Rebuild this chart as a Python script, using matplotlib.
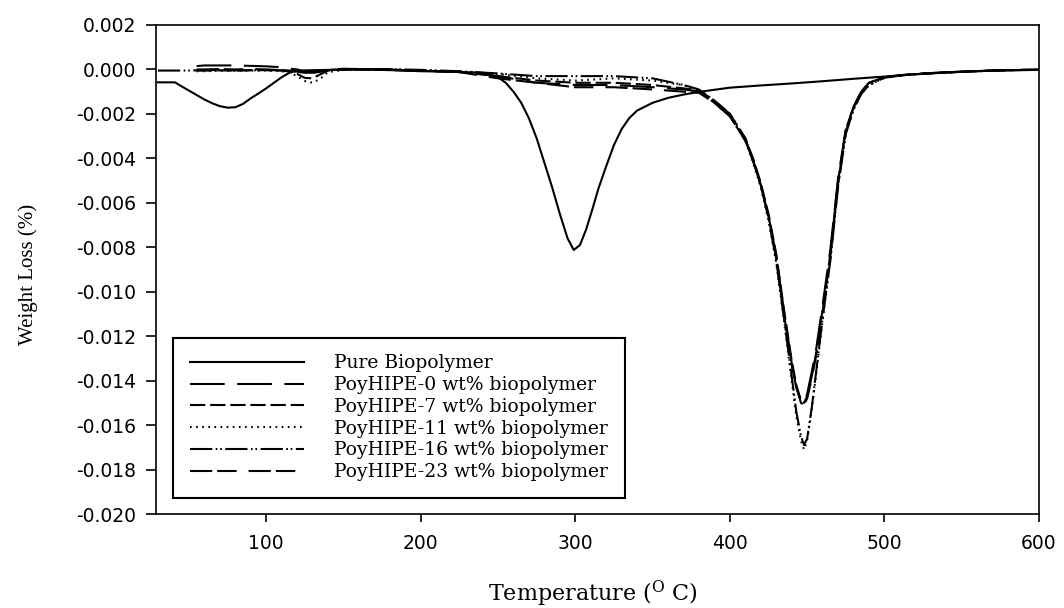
import numpy as np
import matplotlib
matplotlib.use("Agg")
import matplotlib.pyplot as plt
from matplotlib.ticker import FixedLocator, FixedFormatter

plt.rcParams['axes.unicode_minus'] = False
plt.rcParams['lines.scale_dashes'] = False
plt.rcParams['mathtext.fontset'] = 'dejavuserif'

nan = np.nan

# ---------------- data ----------------
T_pure = [30, 41, 45, 50, 55, 60, 65, 70, 75, 80,
          85, 90, 95, 100, 105, 110, 115, 120, 140, 160,
          180, 200, 220, 240, 250, 255, 260, 265, 270, 275,
          280, 285, 290, 295, 299, 303, 307, 311, 315, 320,
          325, 330, 335, 340, 350, 360, 370, 380, 400, 420,
          440, 460, 480, 500, 520, 540, 560, 580, 600]
y_pure = [-0.00058, -0.00058, -0.00075, -0.00095, -0.00115, -0.00135, -0.00152, -0.00165, -0.00172, -0.00170,
          -0.00155, -0.00130, -0.00108, -0.00085, -0.00060, -0.00035, -0.00015, -0.00005, -0.00002, 0.0,
          -0.00003, -0.00008, -0.00010, -0.00015, -0.00035, -0.00060, -0.00100, -0.00150, -0.00220, -0.00310,
          -0.00420, -0.00530, -0.00650, -0.00760, -0.00812, -0.00790, -0.00720, -0.00630, -0.00535, -0.00435,
          -0.00340, -0.00268, -0.00218, -0.00185, -0.00150, -0.00128, -0.00113, -0.00101, -0.00082, -0.00072,
          -0.00063, -0.00053, -0.00042, -0.00032, -0.00022, -0.00014, -0.00008, -0.00004, -0.00002]

T_hipe = [30, 40, 50, 55, 60, 70, 80, 90, 100, 110,
          115, 120, 125, 130, 135, 140, 150, 175, 200, 225,
          250, 275, 300, 325, 350, 370,
          380, 390, 400, 410, 415, 420, 425, 430, 435, 440,
          443, 446, 448, 450, 453, 456, 460, 465, 470, 475,
          480, 485, 490, 500, 510, 525, 550, 575, 600]

y_hipe0 = [nan, nan, nan, 0.00015, 0.00018, 0.00018, 0.00018, 0.00016, 0.00014, 0.00010,
           0.00004, 0.0, -0.00010, -0.00010, -0.00005, 0.0, 0.00003, 0.0, -0.00005, -0.00010,
           -0.00030, -0.00060, -0.00070, -0.00070, -0.00080, -0.00090,
           -0.00098, -0.0015, -0.0021, -0.0032, -0.0041, -0.0052, -0.0066, -0.0085, -0.0110, -0.0133,
           -0.0143, -0.0149, -0.0150, -0.0146, -0.0136, -0.0125, -0.0106, -0.0081, -0.0049, -0.0027,
           -0.0017, -0.0010, -0.0006, -0.00036, -0.00027, -0.00018, -0.00010, -0.00004, -0.00001]

y_hipe7 = [nan, nan, nan, -0.00005, -0.00005, -0.00004, -0.00005, -0.00003, -0.00003, -0.00005,
           -0.00010, -0.00020, -0.00038, -0.00040, -0.00022, -0.00005, 0.0, -0.00002, -0.00006, -0.00012,
           -0.00030, -0.00050, -0.00060, -0.00060, -0.00070, -0.00085,
           -0.00095, -0.0014, -0.0020, -0.0031, -0.0040, -0.0051, -0.0065, -0.0083, -0.0108, -0.0131,
           -0.0142, -0.0149, -0.0150, -0.0147, -0.0138, -0.0127, -0.0108, -0.0083, -0.0050, -0.0027,
           -0.0017, -0.0010, -0.0006, -0.00035, -0.00026, -0.00018, -0.00010, -0.00004, -0.00001]

y_hipe11 = [nan, nan, nan, -0.00008, -0.00008, -0.00006, -0.00006, -0.00005, -0.00005, -0.00008,
            -0.00015, -0.00030, -0.00052, -0.00060, -0.00042, -0.00012, -0.00002, 0.0, -0.00004, -0.00010,
            -0.00020, -0.00040, -0.00050, -0.00040, -0.00050, -0.00070,
            -0.00095, -0.0015, -0.0021, -0.0032, -0.0042, -0.0053, -0.0068, -0.0087, -0.0113, -0.0140,
            -0.0156, -0.0167, -0.0171, -0.0167, -0.0153, -0.0136, -0.0113, -0.0085, -0.0052, -0.0029,
            -0.0018, -0.0011, -0.0007, -0.00038, -0.00028, -0.00019, -0.00010, -0.00004, -0.00001]

y_hipe16 = [-0.00005, -0.00005, -0.00005, -0.00004, -0.00003, -0.00003, -0.00004, -0.00004, -0.00003, -0.00004,
            -0.00006, -0.00010, -0.00015, -0.00015, -0.00010, -0.00004, 0.0, 0.00002, -0.00002, -0.00008,
            -0.00018, -0.00030, -0.00030, -0.00030, -0.00040, -0.00070,
            -0.0009, -0.0014, -0.0020, -0.0031, -0.0041, -0.0052, -0.0067, -0.0086, -0.0112, -0.0138,
            -0.0154, -0.0165, -0.0169, -0.0166, -0.0152, -0.0135, -0.0112, -0.0086, -0.0053, -0.0029,
            -0.0018, -0.0011, -0.0007, -0.00037, -0.00027, -0.00019, -0.00010, -0.00004, -0.00001]

y_hipe23 = [nan, nan, nan, 0.0, 0.0, 0.00002, 0.0, 0.00002, 0.0, -0.00003,
            -0.00005, -0.00010, -0.00015, -0.00015, -0.00010, -0.00003, 0.00002, 0.0, -0.00005, -0.00012,
            -0.00040, -0.00060, -0.00080, -0.00080, -0.00090, -0.00100,
            -0.00105, -0.0015, -0.0021, -0.0032, -0.0041, -0.0052, -0.0066, -0.0084, -0.0109, -0.0132,
            -0.0143, -0.0150, -0.0151, -0.0148, -0.0139, -0.0128, -0.0109, -0.0084, -0.0051, -0.0028,
            -0.0017, -0.0010, -0.0006, -0.00035, -0.00026, -0.00018, -0.00010, -0.00004, -0.00001]

labels = ["Pure Biopolymer",
          "PoyHIPE-0 wt% biopolymer",
          "PoyHIPE-7 wt% biopolymer",
          "PoyHIPE-11 wt% biopolymer",
          "PoyHIPE-16 wt% biopolymer",
          "PoyHIPE-23 wt% biopolymer"]

x_ticks = [100, 200, 300, 400, 500, 600]
x_ticklabels = ["100", "200", "300", "400", "500", "600"]
y_ticks = [0.002, 0.000, -0.002, -0.004, -0.006, -0.008, -0.010,
           -0.012, -0.014, -0.016, -0.018, -0.020]
y_ticklabels = ["0.002", "0.000", "-0.002", "-0.004", "-0.006", "-0.008", "-0.010",
                "-0.012", "-0.014", "-0.016", "-0.018", "-0.020"]

# ---------------- figure ----------------
fig = plt.figure(figsize=(10.64, 6.08), dpi=100)
ax = fig.add_axes([0.1466, 0.1546, 0.9765 - 0.1466, 0.9589 - 0.1546])

lw = 1.5
styles = [
    dict(linestyle='-'),
    dict(linestyle=(0, (25, 9))),
    dict(linestyle=(0, (11, 3.5))),
    dict(linestyle=(0, (1.2, 3.2))),
    dict(linestyle=(0, (16, 2.5, 1.2, 2, 1.2, 2.5))),
    dict(linestyle=(0, (16, 3.6, 14, 8.6))),
]
series = [(T_pure, y_pure), (T_hipe, y_hipe0), (T_hipe, y_hipe7),
          (T_hipe, y_hipe11), (T_hipe, y_hipe16), (T_hipe, y_hipe23)]

handles = []
for (xs, ys), st, lab in zip(series, styles, labels):
    h, = ax.plot(xs, ys, color='black', lw=lw, label=lab, **st)
    handles.append(h)

ax.set_xlim(28.7, 600)
ax.set_ylim(-0.020, 0.002)

ax.xaxis.set_major_locator(FixedLocator(x_ticks))
ax.xaxis.set_major_formatter(FixedFormatter(x_ticklabels))
ax.yaxis.set_major_locator(FixedLocator(y_ticks))
ax.yaxis.set_major_formatter(FixedFormatter(y_ticklabels))

for sp in ax.spines.values():
    sp.set_linewidth(1.2)
    sp.set_color('black')

ax.tick_params(axis='x', direction='out', length=5.5, width=1.2, pad=9,
               labelsize=13.5, top=False)
ax.tick_params(axis='y', direction='out', length=7, width=1.2, pad=7,
               labelsize=13.5, right=False)
for t in ax.get_xticklabels() + ax.get_yticklabels():
    t.set_fontfamily('DejaVu Sans')

ax.set_xlabel(r'Temperature ($^{\mathrm{O}}$ C)', fontfamily='DejaVu Serif',
              fontsize=16)
ax.xaxis.set_label_coords(0.495, -0.133)
ax.set_ylabel('Weight Loss (%)', fontfamily='Liberation Serif', fontsize=15)
ax.yaxis.set_label_coords(-0.134, 0.49)

leg = ax.legend(handles=handles, loc='lower left',
                bbox_to_anchor=(0.0193, 0.0327), borderaxespad=0,
                prop={'family': 'DejaVu Serif', 'size': 13.5},
                handlelength=6.1, handletextpad=1.6, labelspacing=0.2,
                borderpad=0.9, fancybox=False, framealpha=1,
                edgecolor='black')
leg.get_frame().set_linewidth(1.5)

fig.savefig('out.png', dpi=100)
